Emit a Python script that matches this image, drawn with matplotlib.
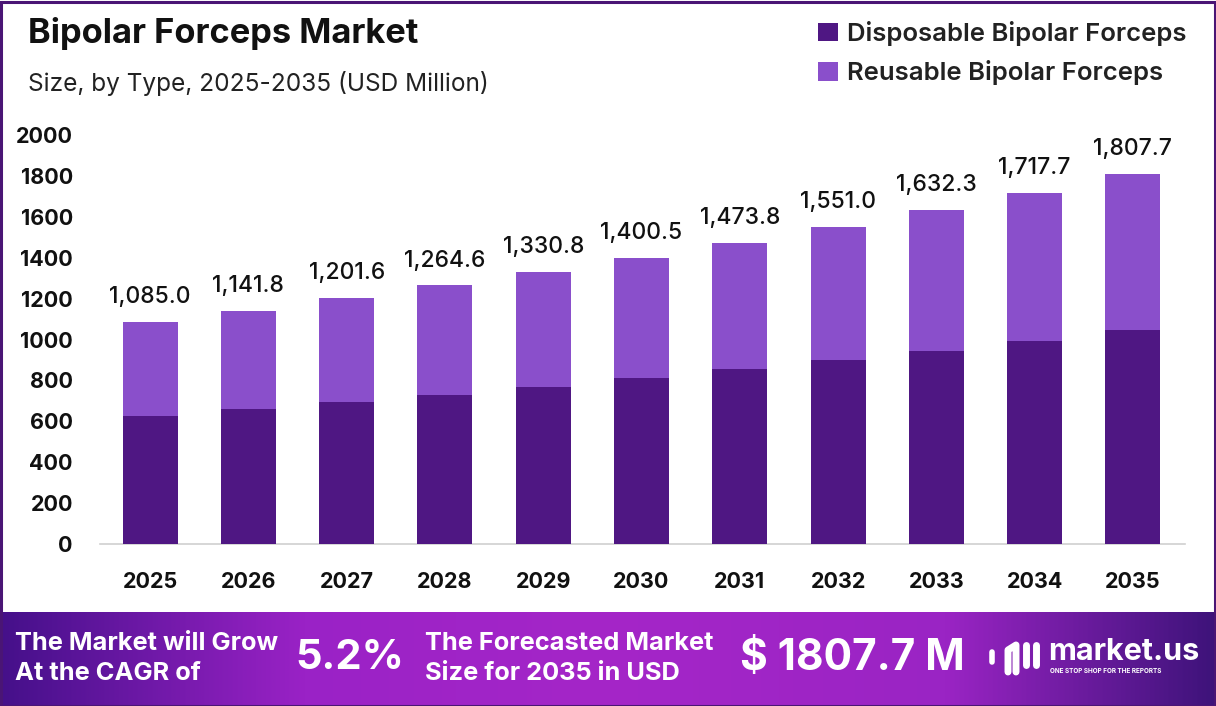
import matplotlib
matplotlib.use("Agg")
import matplotlib.pyplot as plt
import numpy as np
from matplotlib.colors import LinearSegmentedColormap
from matplotlib.patches import Rectangle

years = ["2025", "2026", "2027", "2028", "2029", "2030", "2031", "2032", "2033", "2034", "2035"]
totals = [1085.0, 1141.8, 1201.6, 1264.6, 1330.8, 1400.5, 1473.8, 1551.0, 1632.3, 1717.7, 1807.7]
disposable = [627, 661, 696, 729, 769, 813, 854, 900, 945, 994, 1046]
reusable = [t - d for t, d in zip(totals, disposable)]
yticks = [0, 200, 400, 600, 800, 1000, 1200, 1400, 1600, 1800, 2000]

DARK = "#4F1783"
LIGHT = "#8A4FCB"
FONT = "Inter"

W, H = 1216, 706
fig = plt.figure(figsize=(W / 100, H / 100), dpi=100)
fig.patch.set_facecolor("white")

# axes: left 100px, right 1185px, bottom y=544, top y=135
ax = fig.add_axes([100 / W, (H - 544) / H, (1185 - 100) / W, (544 - 135) / H])
x = np.arange(len(years))
ax.bar(x, disposable, width=0.56, color=DARK, label="Disposable Bipolar Forceps", zorder=3)
ax.bar(x, reusable, width=0.56, bottom=disposable, color=LIGHT, label="Reusable Bipolar Forceps", zorder=3)
ax.set_xlim(-0.51, 10.53)
ax.set_ylim(0, 2000)
ax.set_yticks(yticks)
ax.set_yticklabels([str(v) for v in yticks], fontsize=15.5, fontweight="bold", family=FONT, color="#111111")
ax.set_xticks(x)
ax.set_xticklabels(years, fontsize=15.5, fontweight="bold", family=FONT, color="#111111")
ax.tick_params(axis="y", length=0, pad=19.5)
ax.tick_params(axis="x", length=0, pad=20)
for s in ["top", "right", "left"]:
    ax.spines[s].set_visible(False)
ax.spines["bottom"].set_color("#D0D0D0")
ax.spines["bottom"].set_linewidth(1.2)
ax.set_facecolor("none")

for xi, t in zip(x, totals):
    ax.annotate(f"{t:,.1f}", (xi, t), xytext=(0, 10), textcoords="offset points",
                ha="center", va="bottom", fontsize=16.5, fontweight="medium", family=FONT,
                color="#111111", clip_on=False)

# title and subtitle
fig.text(28 / W, 1 - 33 / H, "Bipolar Forceps Market", fontsize=24.8, fontweight="bold",
         family=FONT, color="#111111", ha="left", va="center")
fig.text(28 / W, 1 - 84 / H, "Size, by Type, 2025-2035 (USD Million)", fontsize=17.6,
         family=FONT, color="#222222", ha="left", va="center")

# legend
handles, labels = ax.get_legend_handles_labels()
leg = fig.legend(handles, labels, loc="upper right", bbox_to_anchor=(1204 / W, 1 - 3 / H),
                 frameon=False, prop={"family": FONT, "size": 18.5, "weight": "semibold"},
                 handlelength=0.75, handleheight=0.75, handletextpad=0.35, labelspacing=0.55,
                 borderpad=0.2)
for t in leg.get_texts():
    t.set_color("#222222")

# outer border
fig.patches.append(Rectangle((1 / W, 0), 1 - 2 / W, 1 - 1.5 / H, transform=fig.transFigure,
                             fill=False, edgecolor="#4A1575", linewidth=2.2, zorder=0))

# bottom banner gradient
bax = fig.add_axes([0, 0, 1, 94 / H])
cmap = LinearSegmentedColormap.from_list("banner", [
    (0.0, "#45108A"), (0.25, "#9A22C6"), (0.5, "#A526C8"), (0.78, "#9A24C4"), (1.0, "#3E137A")])
grad = np.linspace(0, 1, 512).reshape(1, -1)
bax.imshow(grad, aspect="auto", cmap=cmap, extent=[0, W, 0, 94])
bax.set_xlim(0, W)
bax.set_ylim(0, 94)
bax.axis("off")

def btxt(px, py, s, size, weight="bold", ha="left"):
    bax.text(px, 706 - py, s, fontsize=size, fontweight=weight, family=FONT, color="white",
             ha=ha, va="center")

btxt(15, 643, "The Market will Grow", 18.3)
btxt(15, 673, "At the CAGR of", 18.3)
btxt(295, 658, "5.2%", 30)
btxt(425, 643, "The Forecasted Market", 18.3)
btxt(425, 673, "Size for 2035 in USD", 18.3)
btxt(740, 658, "$ 1807.7 M", 30.5)
btxt(1048, 652, "market.us", 22)
btxt(1050, 671, "ONE STOP SHOP FOR THE REPORTS", 4.6)

# simple logo mark (drawn shapes)
lw = 5
bax.plot([1008, 1008, 1016, 1016], [706 - 672, 706 - 650, 706 - 645, 706 - 672], color="white",
         lw=lw, solid_capstyle="round", solid_joinstyle="round")
bax.plot([1026, 1026], [706 - 645, 706 - 665], color="white", lw=lw, solid_capstyle="round")
bax.plot([1036, 1036], [706 - 645, 706 - 665], color="white", lw=lw, solid_capstyle="round")
bax.plot([992, 992], [706 - 652, 706 - 662], color="white", lw=4, solid_capstyle="round")

fig.savefig("out.png", dpi=100, facecolor="white")
